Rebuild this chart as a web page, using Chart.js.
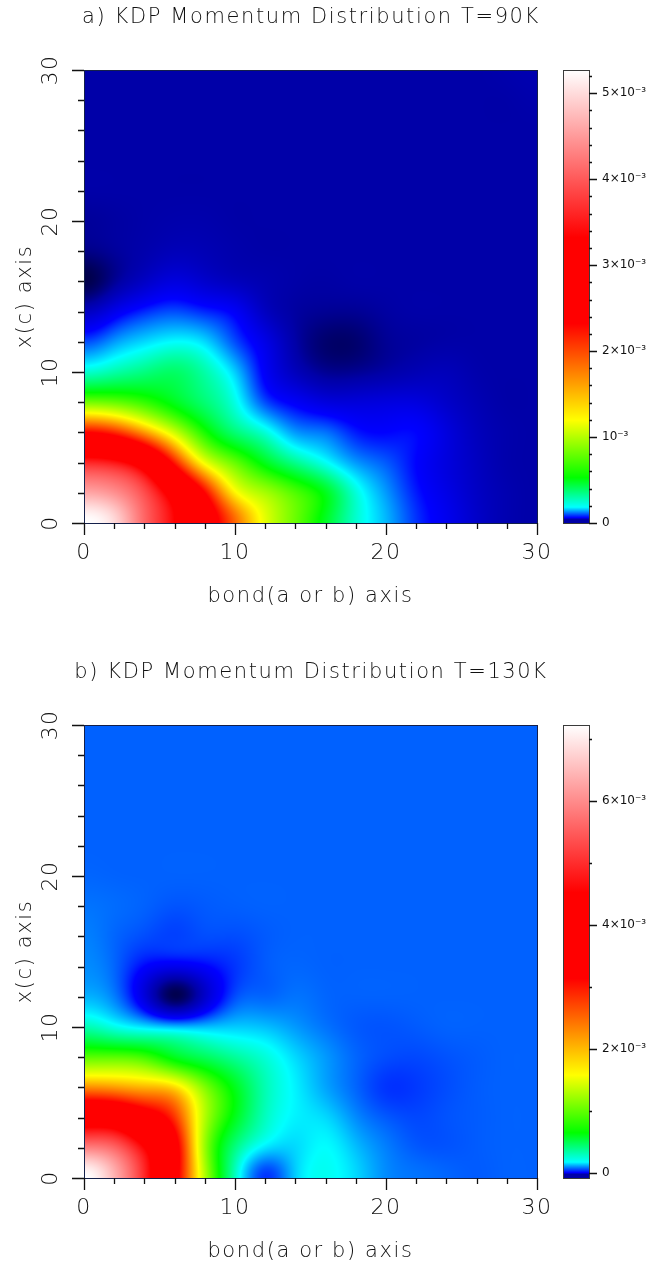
<!DOCTYPE html>
<html>
<head>
<meta charset="utf-8">
<title>KDP Momentum Distribution</title>
<script src="https://cdn.jsdelivr.net/npm/chart.js@4"></script>
<style>
  html, body { margin: 0; padding: 0; background: #fff; }
  body { position: relative; width: 647px; height: 1269px; overflow: hidden; }
  canvas { position: absolute; display: block; }
</style>
</head>
<body>
<canvas id="heatA" width="622" height="620" style="left:0;top:0"></canvas>
<canvas id="barA" width="92" height="620" style="left:555px;top:0"></canvas>
<canvas id="heatB" width="622" height="620" style="left:0;top:655px"></canvas>
<canvas id="barB" width="92" height="620" style="left:555px;top:655px"></canvas>
<script>
// Grid positions (axis units), same for both panels
const xGrid = [0, 2, 4, 6, 8, 10, 12, 14, 16, 18, 20, 22, 24, 26, 28, 30];
const yGrid = [0, 2, 4, 6, 8, 10, 12, 14, 16, 18, 20, 22, 24, 26, 28, 30];

// Momentum density in units of 10^-3, one row per yGrid entry
const momentumA = [
  [5.27, 4.98, 4.10, 3.32, 2.67, 1.87, 1.13, .80, .48, .25, .15, .087, .059, .05, .044, .042],
  [4.59, 4.42, 3.905, 3.12, 2.32, 1.25, .96, .73, .49, .235, .136, .075, .057, .049, .044, .042],
  [3.61, 3.48, 3.07, 2.21, 1.16, .79, .49, .338, .20, .136, .105, .063, .055, .048, .043, .042],
  [2.32, 2.15, 1.65, 1.06, .59, .373, .235, .136, .117, .075, .063, .063, .055, .047, .043, .042],
  [.83, .79, .66, .49, .373, .218, .099, .061, .055, .054, .055, .055, .05, .045, .042, .042],
  [.25, .30, .355, .39, .30, .16, .061, .047, .036, .036, .042, .045, .046, .043, .042, .042],
  [.099, .136, .166, .184, .166, .099, .057, .042, .025, .025, .036, .04, .042, .042, .042, .042],
  [.048, .058, .081, .099, .081, .061, .048, .04, .036, .036, .04, .042, .042, .042, .042, .042],
  [.015, .036, .049, .055, .051, .047, .044, .042, .041, .042, .042, .042, .042, .042, .042, .042],
  [.032, .038, .043, .046, .045, .043, .042, .042, .042, .042, .042, .042, .042, .042, .042, .042],
  [.038, .04, .042, .043, .043, .042, .042, .042, .042, .042, .042, .042, .042, .042, .042, .042],
  [.042, .042, .042, .042, .042, .042, .042, .042, .042, .042, .042, .042, .042, .042, .042, .042],
  [.042, .042, .042, .042, .042, .042, .042, .042, .042, .042, .042, .042, .042, .042, .042, .042],
  [.042, .042, .042, .042, .042, .042, .042, .042, .042, .042, .042, .042, .042, .042, .042, .042],
  [.042, .042, .042, .042, .042, .042, .042, .042, .042, .042, .042, .042, .042, .042, .042, .043],
  [.042, .042, .042, .042, .042, .042, .042, .042, .042, .042, .042, .042, .042, .042, .043, .044]
];

const momentumB = [
  [7.23, 6.42, 4.94, 3.42, 1.30, .295, .042, .142, .20, .151, .10, .084, .075, .068, .072, .072],
  [5.88, 5.61, 4.53, 3.42, 1.21, .413, .159, .151, .176, .134, .092, .067, .063, .068, .072, .072],
  [4.11, 4.04, 3.56, 2.83, 1.30, .60, .295, .168, .151, .10, .067, .055, .062, .068, .072, .072],
  [2.28, 2.20, 2.05, 1.81, 1.115, .60, .318, .168, .117, .075, .042, .045, .058, .068, .072, .072],
  [.976, .976, .88, .60, .484, .366, .247, .151, .109, .075, .058, .055, .062, .068, .072, .072],
  [.318, .223, .159, .134, .134, .142, .134, .109, .084, .067, .063, .067, .072, .072, .072, .072],
  [.126, .092, -.003, -.056, -.009, .058, .075, .084, .075, .072, .072, .072, .072, .072, .072, .072],
  [.10, .075, .008, .002, .007, .042, .067, .075, .072, .072, .072, .072, .072, .072, .072, .072],
  [.092, .075, .058, .05, .058, .058, .067, .072, .072, .072, .072, .072, .072, .072, .072, .072],
  [.084, .079, .072, .063, .067, .07, .072, .072, .072, .072, .072, .072, .072, .072, .072, .072],
  [.075, .073, .072, .072, .072, .072, .072, .072, .072, .072, .072, .072, .072, .072, .072, .072],
  [.072, .072, .072, .072, .072, .072, .072, .072, .072, .072, .072, .072, .072, .072, .072, .072],
  [.072, .072, .072, .072, .072, .072, .072, .072, .072, .072, .072, .072, .072, .072, .072, .072],
  [.072, .072, .072, .072, .072, .072, .072, .072, .072, .072, .072, .072, .072, .072, .072, .072],
  [.072, .072, .072, .072, .072, .072, .072, .072, .072, .072, .072, .072, .072, .072, .072, .072],
  [.072, .072, .072, .072, .072, .072, .072, .072, .072, .072, .072, .072, .072, .072, .072, .072]
];

// Colour scale: colours and the value each one sits at on the two colour bars
const scaleColors = [[0,0,24], [0,0,168], [0,0,255], [0,255,255], [0,255,0], [255,255,0], [255,0,0], [255,0,0], [255,255,255]];
const scaleValuesA = [0, .042, .063, .184, .527, 1.196, 2.32, 3.32, 5.27];
const scaleValuesB = [-.08, -.02, .008, .176, .65, 1.58, 3.14, 4.53, 7.23];

const barTickStepA = 0.2;
const barTickStepB = 1;
const barLabelsA = { 0: '0', 1: '10⁻³', 2: '2×10⁻³', 3: '3×10⁻³', 4: '4×10⁻³', 5: '5×10⁻³' };
const barLabelsB = { 0: '0', 2: '2×10⁻³', 4: '4×10⁻³', 6: '6×10⁻³' };

const INK = '#111';
const LIGHT_FONT = 'DejaVu Sans';

// value -> position on the colour scale (0..8), smoothing runs on that position
function toLevel(v, stops) {
  if (v <= stops[0]) return 0;
  for (let i = 1; i < stops.length; i++) {
    if (v <= stops[i]) return i - 1 + (v - stops[i - 1]) / (stops[i] - stops[i - 1]);
  }
  return stops.length - 1;
}

function levelColor(l) {
  l = Math.max(0, Math.min(scaleColors.length - 1, l));
  const i = Math.min(scaleColors.length - 2, Math.floor(l));
  const t = l - i;
  const a = scaleColors[i], b = scaleColors[i + 1];
  return [a[0] + (b[0] - a[0]) * t, a[1] + (b[1] - a[1]) * t, a[2] + (b[2] - a[2]) * t];
}

// Cubic spline through the grid (mirrored at the edges)
const POLE = Math.sqrt(3) - 2;
function splineLine(s) {
  const n = s.length, c = s.map(v => v * 6);
  let sum = 0, zk = 1;
  for (let k = 0; k < n; k++) { sum += c[k] * zk; zk *= POLE; }
  c[0] = sum;
  for (let k = 1; k < n; k++) c[k] += POLE * c[k - 1];
  c[n - 1] = (POLE / (POLE * POLE - 1)) * (c[n - 1] + POLE * c[n - 2]);
  for (let k = n - 2; k >= 0; k--) c[k] = POLE * (c[k + 1] - c[k]);
  return c;
}

function splineCoefficients(levels) {
  const rows = levels.map(splineLine);
  const out = rows.map(r => r.slice());
  for (let i = 0; i < rows[0].length; i++) {
    splineLine(rows.map(r => r[i])).forEach((v, j) => { out[j][i] = v; });
  }
  return out;
}

function basis(t) {
  const t2 = t * t, t3 = t2 * t, u = 1 - t;
  return [u * u * u / 6, (3 * t3 - 6 * t2 + 4) / 6, (-3 * t3 + 3 * t2 + 3 * t + 1) / 6, t3 / 6];
}

function mirror(i, n) {
  if (i < 0) return -i;
  if (i > n - 1) return 2 * (n - 1) - i;
  return i;
}

function sampleLevel(coef, x, y) {
  const fx = Math.max(0, Math.min(xGrid.length - 1.001, x / 2));
  const fy = Math.max(0, Math.min(yGrid.length - 1.001, y / 2));
  const ix = Math.floor(fx), iy = Math.floor(fy);
  const bx = basis(fx - ix), by = basis(fy - iy);
  let out = 0;
  for (let j = 0; j < 4; j++) {
    const r = coef[mirror(iy + j - 1, yGrid.length)];
    for (let i = 0; i < 4; i++) out += by[j] * bx[i] * r[mirror(ix + i - 1, xGrid.length)];
  }
  return out;
}

// Outward ticks and frame, long on labelled values
function frameTicks(major, minor, frame, isMajor, spacing) {
  return {
    id: 'frameTicks',
    beforeDraw(chart) { chart.ctx.letterSpacing = spacing; },
    afterDraw(chart) {
      const { ctx, chartArea: a, scales } = chart;
      ctx.save();
      ctx.strokeStyle = frame;
      ctx.lineWidth = 1;
      ctx.strokeRect(a.left + .5, a.top + .5, a.width, a.height);
      ctx.strokeStyle = INK;
      ctx.lineWidth = 1.3;
      ctx.beginPath();
      Object.values(scales).forEach(s => {
        if (!s.options.display || s.id === 'spacer') return;
        s.ticks.forEach(t => {
          const len = isMajor(t.value) ? major : minor;
          const p = Math.round(s.getPixelForValue(t.value)) + .5;
          if (s.axis === 'x') { ctx.moveTo(p, a.bottom); ctx.lineTo(p, a.bottom + len); }
          else if (s.position === 'left') { ctx.moveTo(a.left, p); ctx.lineTo(a.left - len, p); }
          else { ctx.moveTo(a.right, p); ctx.lineTo(a.right + len, p); }
        });
      });
      ctx.stroke();
      ctx.restore();
    }
  };
}

// Paints the grid as a smooth field through the chart's scales
function smoothField(values, stops) {
  const coef = splineCoefficients(values.map(r => r.map(v => toLevel(v, stops))));
  return {
    id: 'smoothField',
    beforeDatasetsDraw(chart) {
      const { ctx, chartArea: a, scales: { x, y } } = chart;
      const w = Math.round(a.width), h = Math.round(a.height);
      const img = ctx.createImageData(w, h);
      for (let j = 0; j < h; j++) {
        const vy = y.getValueForPixel(a.top + j + .5);
        for (let i = 0; i < w; i++) {
          const vx = x.getValueForPixel(a.left + i + .5);
          const c = levelColor(sampleLevel(coef, vx, vy));
          const k = (j * w + i) * 4;
          img.data[k] = c[0]; img.data[k + 1] = c[1]; img.data[k + 2] = c[2]; img.data[k + 3] = 255;
        }
      }
      ctx.putImageData(img, a.left, a.top);
    }
  };
}

function colorBar(stops) {
  return {
    id: 'colorBar',
    beforeDatasetsDraw(chart) {
      const { ctx, chartArea: a, scales: { y } } = chart;
      const g = ctx.createLinearGradient(0, a.bottom, 0, a.top);
      const span = a.bottom - a.top;
      stops.forEach((v, i) => {
        // bar starts at navy, the near-black only shows in the field minima
        const c = scaleColors[Math.max(i, 1)];
        g.addColorStop(Math.max(0, Math.min(1, (a.bottom - y.getPixelForValue(v)) / span)), `rgb(${c[0]},${c[1]},${c[2]})`);
      });
      ctx.fillStyle = g;
      ctx.fillRect(a.left, a.top, a.width, a.height);
    }
  };
}

function lightFont(size) {
  return { family: LIGHT_FONT, size: size, weight: '200', lineHeight: 1 };
}

function makeHeat(id, title, values, stops) {
  const points = [];
  yGrid.forEach((gy, j) => xGrid.forEach((gx, i) => points.push({ x: gx, y: gy, v: values[j][i] })));
  return new Chart(document.getElementById(id), {
    type: 'scatter',
    data: { datasets: [{ label: title, data: points, pointRadius: 0 }] },
    plugins: [smoothField(values, stops), frameTicks(12, 6, '#14204a', v => v % 10 === 0, '1.6px')],
    options: {
      responsive: false,
      animation: false,
      layout: { autoPadding: false, padding: 0 },
      plugins: {
        legend: { display: false },
        tooltip: { enabled: false },
        title: { display: true, text: title, color: INK, font: lightFont(21), padding: { top: 7, bottom: 42 } }
      },
      scales: {
        x: {
          type: 'linear', min: 0, max: 30,
          afterFit: s => { s.height = 97; s.paddingLeft = 0; s.paddingRight = 0; },
          border: { display: false },
          grid: { display: false, drawTicks: false },
          ticks: { stepSize: 2, autoSkip: false, maxRotation: 0, padding: 19, color: INK, font: lightFont(22), callback: v => v % 10 === 0 ? v : '' },
          title: { display: true, text: 'bond(a or b) axis', color: INK, font: lightFont(21), padding: { top: 0, bottom: 13 } }
        },
        y: {
          type: 'linear', min: 0, max: 30,
          afterFit: s => { s.width = 84; s.paddingTop = 0; s.paddingBottom = 0; },
          border: { display: false },
          grid: { display: false, drawTicks: false },
          ticks: { stepSize: 2, autoSkip: false, minRotation: 90, maxRotation: 90, crossAlign: 'center', padding: 19, color: INK, font: lightFont(22), callback: v => v % 10 === 0 ? v : '' },
          title: { display: true, text: 'x(c) axis', color: INK, font: lightFont(21), padding: { top: 15, bottom: 0 } }
        },
        // empty right axis: leaves room for the colour bar, title stays centred on the page part
        spacer: {
          axis: 'y', type: 'linear', position: 'right', min: 0, max: 1,
          afterFit: s => { s.width = 85; s.paddingTop = 0; s.paddingBottom = 0; },
          border: { display: false },
          grid: { display: false, drawTicks: false },
          ticks: { display: false }
        }
      }
    }
  });
}

function makeBar(id, stops, step, labels) {
  const isMajor = v => labels[Math.round(v * 1000) / 1000] !== undefined;
  return new Chart(document.getElementById(id), {
    type: 'scatter',
    data: { datasets: [{ label: 'colour scale', data: stops.map(v => ({ x: 0, y: v })), pointRadius: 0 }] },
    plugins: [colorBar(stops), frameTicks(8, 3, '#3a3a3a', isMajor, '0px')],
    options: {
      responsive: false,
      animation: false,
      layout: { autoPadding: false, padding: { left: 8, right: 0, top: 70, bottom: 97 } },
      plugins: { legend: { display: false }, tooltip: { enabled: false }, title: { display: false } },
      scales: {
        x: { display: false, min: -1, max: 1 },
        y: {
          type: 'linear', position: 'right',
          min: stops[0], max: stops[stops.length - 1],
          afterFit: s => { s.width = 58; s.paddingTop = 0; s.paddingBottom = 0; },
          border: { display: false },
          grid: { display: false, drawTicks: false },
          ticks: {
            stepSize: step, includeBounds: false, autoSkip: false, padding: 13, color: INK,
            font: { family: 'DejaVu Sans', size: 12 },
            callback: v => labels[Math.round(v * 1000) / 1000] || ''
          }
        }
      }
    }
  });
}

makeHeat('heatA', 'a) KDP Momentum Distribution T=90K', momentumA, scaleValuesA);
makeBar('barA', scaleValuesA, barTickStepA, barLabelsA);
makeHeat('heatB', 'b) KDP Momentum Distribution T=130K', momentumB, scaleValuesB);
makeBar('barB', scaleValuesB, barTickStepB, barLabelsB);
</script>
</body>
</html>
